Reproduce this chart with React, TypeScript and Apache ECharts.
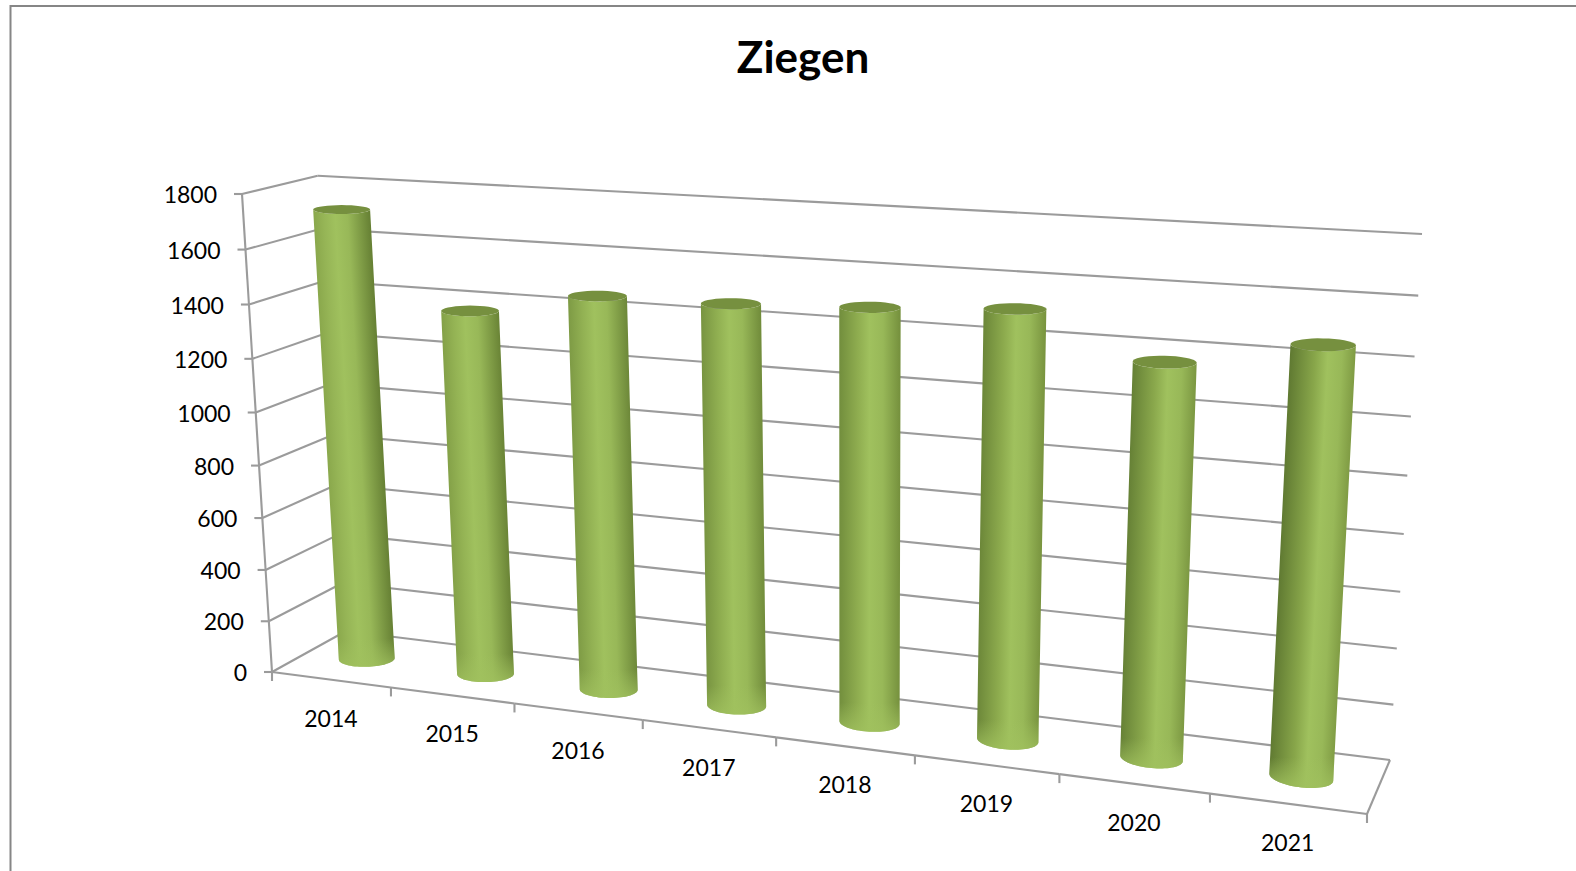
import React, { useEffect, useRef } from "react";
import * as echarts from "echarts";

const years = ["2014", "2015", "2016", "2017", "2018", "2019", "2020", "2021"];
const goats = [1722, 1381, 1467, 1472, 1492, 1519, 1376, 1469];
const yTicks = [0, 200, 400, 600, 800, 1000, 1200, 1400, 1600, 1800];
const Y_MAX = 1800;

type P = [number, number];
// Four screen corners of a plane of the 3D box: bottom-left, bottom-right, top-right, top-left.
const backWall: P[] = [[346, 631], [1390, 760], [1422, 234], [317.7, 175.7]];
const frontWall: P[] = [[272, 672], [1367, 814], [1399.6, 257.5], [242, 194]];
const barPlane: P[] = [[309, 651.5], [1378.5, 787], [1410.8, 245.75], [279.85, 184.85]];

function homography(q: P[]) {
  const [[x0, y0], [x1, y1], [x2, y2], [x3, y3]] = q;
  const dx1 = x1 - x2, dx2 = x3 - x2, sx = x0 - x1 + x2 - x3;
  const dy1 = y1 - y2, dy2 = y3 - y2, sy = y0 - y1 + y2 - y3;
  const den = dx1 * dy2 - dx2 * dy1;
  const g = (sx * dy2 - dx2 * sy) / den;
  const h = (dx1 * sy - sx * dy1) / den;
  const a = x1 - x0 + g * x1, b = x3 - x0 + h * x3;
  const d = y1 - y0 + g * y1, e = y3 - y0 + h * y3;
  return (u: number, v: number): P => {
    const w = g * u + h * v + 1;
    return [(a * u + b * v + x0) / w, (d * u + e * v + y0) / w];
  };
}
const back = homography(backWall);
const front = homography(frontWall);
const bars = homography(barPlane);

const GRID = "#9b9b9b";
const lineEl = (a: P, b: P) => ({
  type: "line",
  shape: { x1: a[0], y1: a[1], x2: b[0], y2: b[1] },
  style: { stroke: GRID, lineWidth: 2.1 },
});
const textEl = (x: number, y: number, text: string, align: string) => ({
  type: "text",
  x,
  y,
  style: { text, fill: "#000", font: '23px Lato', align, verticalAlign: "middle" },
});

function mix(a: number[], b: number[], t: number) {
  const c = a.map((v, i) => Math.round(v + (b[i] - v) * t));
  return `rgb(${c[0]},${c[1]},${c[2]})`;
}

function uv(params: any, api: any, cat: number, val: number): P {
  const cs = params.coordSys;
  const p = api.coord([cat, val]);
  return [(p[0] - cs.x) / cs.width, (cs.y + cs.height - p[1]) / cs.height];
}

function renderGrid(params: any, api: any) {
  const val = api.value(1);
  const [, v] = uv(params, api, 0, val);
  const f = front(0, v);
  const children: any[] = [
    lineEl(f, back(0, v)),
    lineEl(back(0, v), back(1, v)),
    lineEl(f, [f[0] - 8, f[1]]),
    textEl(f[0] - 25, f[1], String(val), "right"),
  ];
  if (val < Y_MAX) {
    const [, v2] = uv(params, api, 0, val + 200);
    children.push(lineEl(f, front(0, v2)));
  }
  return { type: "group", children };
}

function renderBands(params: any, api: any) {
  const i = api.value(0);
  const [uc] = uv(params, api, i, 0);
  const half = api.size([1, 0])[0] / 2 / params.coordSys.width;
  const a = front(uc - half, 0), b = front(uc + half, 0), c = front(uc, 0);
  const children: any[] = [
    lineEl(a, b),
    lineEl(a, [a[0], a[1] + 9]),
    textEl(c[0], c[1] + 38, years[i], "center"),
  ];
  if (i === years.length - 1) {
    children.push(lineEl(b, [b[0], b[1] + 9]));
    children.push(lineEl(b, back(1, 0)));
  }
  return { type: "group", children };
}

function renderCylinder(params: any, api: any) {
  const i = api.value(0);
  const val = api.value(1);
  const [u, vTop] = uv(params, api, i, val);
  const half = api.size([1, 0])[0] / 2 / params.coordSys.width;
  const t = i / (years.length - 1);

  const ring = (v: number) => {
    const c = bars(u, v);
    const l = bars(u - half, v), r = bars(u + half, v);
    const hw = (5.15 * Math.sqrt(Math.hypot(r[0] - l[0], r[1] - l[1]))) / 2;
    const ratio = 0.095 + 0.00029 * c[1];
    const slope = (1 - v) * (i * 0.02 - 0.03);
    const at = (a: number): P => [
      c[0] + hw * Math.cos(a),
      c[1] + ratio * hw * Math.sin(a) + slope * hw * Math.cos(a),
    ];
    return { c, hw, at };
  };
  const top = ring(vTop);
  const bottom = ring(0);
  const N = 36;
  const arc = (r: any, from: number, to: number) =>
    Array.from({ length: N + 1 }, (_, k) => r.at(from + ((to - from) * k) / N));

  const outline = [top.at(Math.PI), ...arc(bottom, Math.PI, 0), top.at(0), ...arc(top, 0, Math.PI)];
  const midX = (top.c[0] + bottom.c[0]) / 2, midY = (top.c[1] + bottom.c[1]) / 2;
  const hw = (top.hw + bottom.hw) / 2;
  const ax = bottom.c[0] - top.c[0], ay = bottom.c[1] - top.c[1];
  const len = Math.hypot(ax, ay);
  const nx = ay / len, ny = -ax / len;

  const leftEdge = mix([138, 168, 76], [96, 122, 50], t);
  const rightEdge = mix([102, 128, 52], [128, 156, 68], t);
  const bright = 0.38 + 0.2 * t;
  const body = new echarts.graphic.LinearGradient(
    midX - nx * hw, midY - ny * hw, midX + nx * hw, midY + ny * hw,
    [
      { offset: 0, color: leftEdge },
      { offset: Math.max(bright - 0.2, 0.1), color: mix([150, 181, 86], [136, 166, 74], t) },
      { offset: bright, color: "#a0c15e" },
      { offset: Math.min(bright + 0.22, 0.88), color: "#98b858" },
      { offset: 1, color: rightEdge },
    ],
    true
  );
  const glow = new echarts.graphic.LinearGradient(
    0, bottom.c[1] - 20, 0, bottom.c[1] + 6,
    [
      { offset: 0, color: "rgba(160,193,94,0)" },
      { offset: 1, color: "rgba(160,193,94,0.7)" },
    ],
    true
  );
  return {
    type: "group",
    children: [
      { type: "polygon", shape: { points: outline }, style: { fill: body } },
      { type: "polygon", shape: { points: outline }, style: { fill: glow } },
      { type: "polygon", shape: { points: arc(top, 0, Math.PI * 2) }, style: { fill: "#76903f" } },
    ],
  };
}

export default function App() {
  const ref = useRef<HTMLDivElement>(null);
  useEffect(() => {
    const chart = echarts.init(ref.current!, undefined, { renderer: "svg" });
    chart.setOption({
      animation: false,
      backgroundColor: "#fff",
      title: {
        text: "Ziegen",
        left: 798,
        top: 29,
        textAlign: "center",
        textStyle: { fontFamily: "Lato", fontWeight: "bold", fontSize: 44, color: "#000" },
      },
      graphic: [
        { type: "line", shape: { x1: 10.5, y1: 6, x2: 1576, y2: 6 }, style: { stroke: "#868686", lineWidth: 2 } },
        { type: "line", shape: { x1: 10.5, y1: 5, x2: 10.5, y2: 871 }, style: { stroke: "#868686", lineWidth: 2 } },
      ],
      grid: { left: 100, top: 100, width: 1000, height: 500 },
      xAxis: { type: "category", data: years, show: false },
      yAxis: { type: "value", min: 0, max: Y_MAX, interval: 200, show: false },
      series: [
        { type: "custom", name: "grid", z: 1, clip: false, silent: true, renderItem: renderGrid, encode: { x: 0, y: 1 }, data: yTicks.map((v) => [0, v]) },
        { type: "custom", name: "axis", z: 2, clip: false, silent: true, renderItem: renderBands, encode: { x: 0, y: 1 }, data: years.map((_, i) => [i, 0]) },
        { type: "custom", name: "Ziegen", z: 3, clip: false, renderItem: renderCylinder, encode: { x: 0, y: 1 }, data: goats.map((v, i) => [i, v]) },
      ],
    });
    return () => chart.dispose();
  }, []);
  return <div ref={ref} style={{ position: "fixed", left: 0, top: 0, width: 1576, height: 871 }} />;
}
